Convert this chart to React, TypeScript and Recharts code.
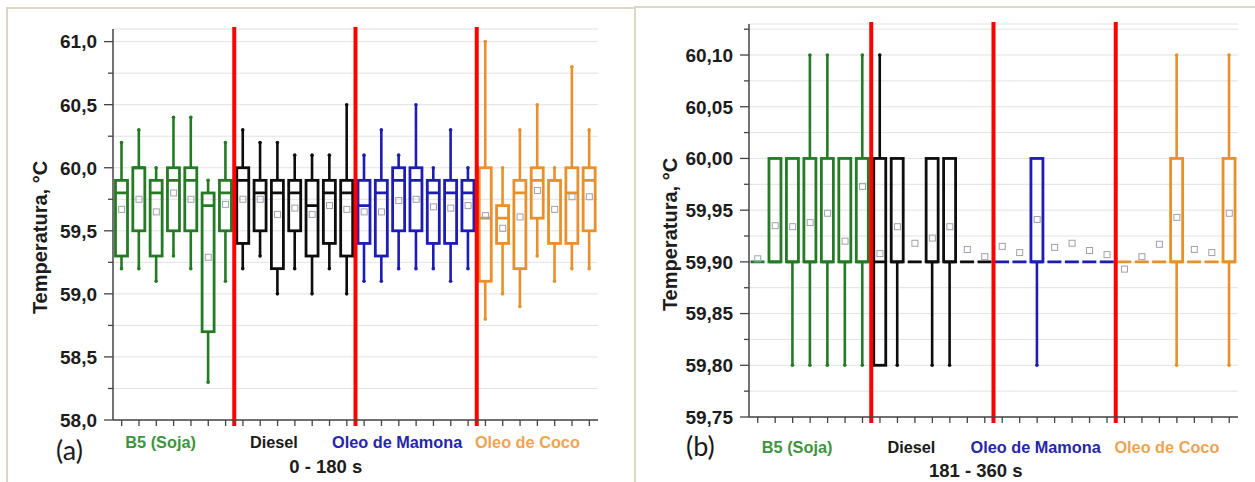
import {
  Bar,
  CartesianGrid,
  ComposedChart,
  Line,
  ReferenceArea,
  ReferenceLine,
  XAxis,
  YAxis,
} from 'recharts'

// 7 runs per fuel, 4 fuels
const categories = [
  'S1', 'S2', 'S3', 'S4', 'S5', 'S6', 'S7',
  'D1', 'D2', 'D3', 'D4', 'D5', 'D6', 'D7',
  'M1', 'M2', 'M3', 'M4', 'M5', 'M6', 'M7',
  'C1', 'C2', 'C3', 'C4', 'C5', 'C6', 'C7',
]
const groups = ['B5 (Soja)', 'Diesel', 'Oleo de Mamona', 'Oleo de Coco']

// (a) 0 - 180 s
const minA = [
  59.2, 59.2, 59.1, 59.3, 59.2, 58.3, 59.1,
  59.2, 59.3, 59.0, 59.2, 59.0, 59.2, 59.0,
  59.1, 59.1, 59.2, 59.2, 59.2, 59.1, 59.2,
  58.8, 59.0, 58.9, 59.3, 59.1, 59.2, 59.2,
]
const q1A = [
  59.3, 59.5, 59.3, 59.5, 59.5, 58.7, 59.5,
  59.4, 59.5, 59.2, 59.5, 59.3, 59.4, 59.3,
  59.4, 59.3, 59.5, 59.5, 59.4, 59.4, 59.5,
  59.1, 59.4, 59.2, 59.6, 59.4, 59.4, 59.5,
]
const medA = [
  59.8, 60.0, 59.8, 59.9, 59.9, 59.7, 59.8,
  59.9, 59.8, 59.8, 59.8, 59.7, 59.8, 59.8,
  59.7, 59.8, 59.9, 59.9, 59.8, 59.8, 59.8,
  59.6, 59.6, 59.8, 59.9, 59.9, 59.8, 59.9,
]
const q3A = [
  59.9, 60.0, 59.9, 60.0, 60.0, 59.8, 59.9,
  60.0, 59.9, 59.9, 59.9, 59.9, 59.9, 59.9,
  59.9, 59.9, 60.0, 60.0, 59.9, 59.9, 59.9,
  60.0, 59.7, 59.9, 60.0, 59.9, 60.0, 60.0,
]
const maxA = [
  60.2, 60.3, 60.0, 60.4, 60.4, 59.9, 60.2,
  60.3, 60.2, 60.2, 60.1, 60.1, 60.1, 60.5,
  60.1, 60.3, 60.1, 60.5, 60.0, 60.3, 60.0,
  61.0, 60.0, 60.3, 60.5, 60.0, 60.8, 60.3,
]
const meanA = [
  59.67, 59.75, 59.65, 59.8, 59.75, 59.29, 59.71,
  59.75, 59.75, 59.63, 59.68, 59.63, 59.7, 59.67,
  59.65, 59.65, 59.74, 59.75, 59.69, 59.68, 59.7,
  59.62, 59.52, 59.61, 59.82, 59.67, 59.77, 59.77,
]

// (b) 181 - 360 s
const minB = [
  59.9, 59.9, 59.8, 59.8, 59.8, 59.8, 59.8,
  59.8, 59.8, 59.9, 59.8, 59.8, 59.9, 59.9,
  59.9, 59.9, 59.8, 59.9, 59.9, 59.9, 59.9,
  59.9, 59.9, 59.9, 59.8, 59.9, 59.9, 59.8,
]
const q1B = [
  59.9, 59.9, 59.9, 59.9, 59.9, 59.9, 59.9,
  59.8, 59.9, 59.9, 59.9, 59.9, 59.9, 59.9,
  59.9, 59.9, 59.9, 59.9, 59.9, 59.9, 59.9,
  59.9, 59.9, 59.9, 59.9, 59.9, 59.9, 59.9,
]
const medB = [
  59.9, 59.9, 59.9, 59.9, 59.9, 59.9, 59.9,
  59.9, 59.9, 59.9, 59.9, 59.9, 59.9, 59.9,
  59.9, 59.9, 59.9, 59.9, 59.9, 59.9, 59.9,
  59.9, 59.9, 59.9, 59.9, 59.9, 59.9, 59.9,
]
const q3B = [
  59.9, 60.0, 60.0, 60.0, 60.0, 60.0, 60.0,
  60.0, 60.0, 59.9, 60.0, 60.0, 59.9, 59.9,
  59.9, 59.9, 60.0, 59.9, 59.9, 59.9, 59.9,
  59.9, 59.9, 59.9, 60.0, 59.9, 59.9, 60.0,
]
const maxB = [
  59.9, 60.0, 60.0, 60.1, 60.1, 60.0, 60.1,
  60.1, 60.0, 59.9, 60.0, 60.0, 59.9, 59.9,
  59.9, 59.9, 60.0, 59.9, 59.9, 59.9, 59.9,
  59.9, 59.9, 59.9, 60.1, 59.9, 59.9, 60.1,
]
const meanB = [
  59.903, 59.935, 59.934, 59.938, 59.947, 59.92, 59.973,
  59.908, 59.934, 59.918, 59.923, 59.934, 59.912, 59.905,
  59.915, 59.909, 59.941, 59.914, 59.918, 59.911, 59.907,
  59.893, 59.905, 59.917, 59.943, 59.912, 59.909, 59.947,
]

const ticksA = [58, 58.25, 58.5, 58.75, 59, 59.25, 59.5, 59.75, 60, 60.25, 60.5, 60.75, 61]
const ticksB = [
  59.75, 59.775, 59.8, 59.825, 59.85, 59.875, 59.9, 59.925, 59.95, 59.975,
  60, 60.025, 60.05, 60.075, 60.1, 60.125,
]

const boxColors = ['#257a25', '#0d0d0d', '#1d1db2', '#e8912c']
const labelColors = ['#3c953c', '#1a1a1a', '#2626a6', '#eea452']
const labelShift = [-13, -21, -19, -10]
const FONT = '"Liberation Sans", Arial, sans-serif'

const buildRows = (
  mins: number[],
  q1s: number[],
  meds: number[],
  q3s: number[],
  maxs: number[],
  means: number[],
) =>
  categories.map((cat, i) => ({
    cat,
    group: Math.floor(i / 7),
    min: mins[i],
    q1: q1s[i],
    med: meds[i],
    q3: q3s[i],
    max: maxs[i],
    mean: means[i],
  }))

const rowsA = buildRows(minA, q1A, medA, q3A, maxA, meanA)
const rowsB = buildRows(minB, q1B, medB, q3B, maxB, meanB)

function BoxShape(props: any) {
  const { x, y, width, height, payload } = props
  const { min, q1, med, q3, max, group } = payload
  const color = boxColors[group]
  const span = max - min
  const py = (v: number) => (span > 0 ? y + ((max - v) / span) * height : y)
  const cx = x + width / 2
  const left = x + 1.5
  const w = width - 3
  return (
    <g>
      {max > q3 && (
        <>
          <line x1={cx} x2={cx} y1={py(max)} y2={py(q3)} stroke={color} strokeWidth={2.6} />
          <circle cx={cx} cy={py(max)} r={1.8} fill={color} />
        </>
      )}
      {min < q1 && (
        <>
          <line x1={cx} x2={cx} y1={py(q1)} y2={py(min)} stroke={color} strokeWidth={2.6} />
          <circle cx={cx} cy={py(min)} r={1.8} fill={color} />
        </>
      )}
      {q3 > q1 ? (
        <>
          <rect x={left} y={py(q3)} width={w} height={py(q1) - py(q3)} fill="none" stroke={color} strokeWidth={2.8} />
          <line x1={left} x2={left + w} y1={py(med)} y2={py(med)} stroke={color} strokeWidth={2.8} />
        </>
      ) : (
        <line x1={left - 1} x2={left + w + 1} y1={py(q1)} y2={py(q1)} stroke={color} strokeWidth={2.8} />
      )}
    </g>
  )
}

const renderMean = (p: any) => (
  <rect
    key={`m-${p.index}`}
    x={p.cx - 3}
    y={p.cy - 3}
    width={6}
    height={6}
    fill="none"
    stroke="#a0a0ac"
    strokeWidth={1}
  />
)

const redLine = (p: any) => (
  <line x1={p.x1} x2={p.x2} y1={Math.min(p.y1, p.y2) - 2} y2={Math.max(p.y1, p.y2) + 6} stroke="#ff0000" strokeWidth={4} />
)

interface PanelProps {
  rows: ReturnType<typeof buildRows>
  domain: [number, number]
  ticks: number[]
  decimals: number
  majorStep: number
  left: number
  width: number
  margin: { top: number; right: number; bottom: number; left: number }
  xAxisHeight: number
  title: string
  titleShift: number
  titleDy: number
  groupDy: number
  yLabelDx: number
  yLabelDy: number
}

function Panel(p: PanelProps) {
  const YTick = (t: any) => {
    const v = t.payload.value as number
    const axisX = t.x + 16
    const major = Math.abs(v / p.majorStep - Math.round(v / p.majorStep)) < 1e-6
    return (
      <g>
        <line x1={axisX - (major ? 9 : 5)} x2={axisX} y1={t.y} y2={t.y} stroke="#444" strokeWidth={1.3} />
        {major && (
          <text x={t.x} y={t.y} dy="0.36em" textAnchor="end" fontFamily={FONT} fontWeight="bold" fontSize={19} fill="#1c1c1c">
            {v.toFixed(p.decimals).replace('.', ',')}
          </text>
        )}
      </g>
    )
  }

  const XTick = (t: any) => {
    const i = t.payload.index ?? t.index
    const g = Math.floor(i / 7)
    return (
      <g>
        {i % 7 === 3 && (
          <text x={t.x + labelShift[g]} y={t.y + p.groupDy} textAnchor="middle" fontFamily={FONT} fontWeight="bold" fontSize={16.3} fill={labelColors[g]}>
            {groups[g]}
          </text>
        )}
        {i === 13 && (
          <text x={t.x + p.titleShift} y={t.y + p.titleDy} textAnchor="middle" fontFamily={FONT} fontWeight="bold" fontSize={18.5} fill="#1c1c1c">
            {p.title}
          </text>
        )}
      </g>
    )
  }

  const yLabel = (l: any) => {
    const vb = l.viewBox
    const cx = vb.x + p.yLabelDx
    const cy = vb.y + vb.height / 2 + p.yLabelDy
    return (
      <text x={cx} y={cy} transform={`rotate(-90 ${cx} ${cy})`} textAnchor="middle" dy="0.36em" fontFamily={FONT} fontWeight="bold" fontSize={20} fill="#1c1c1c">
        Temperatura, °C
      </text>
    )
  }

  return (
    <div style={{ position: 'absolute', left: p.left, top: 0 }}>
      <ComposedChart width={p.width} height={482} data={p.rows} margin={p.margin}>
        <CartesianGrid vertical={false} stroke="#e2e2e2" strokeWidth={1} />
        <XAxis
          dataKey="cat"
          interval={0}
          height={p.xAxisHeight}
          tickSize={6}
          tickMargin={2}
          tick={XTick}
          tickLine={{ stroke: '#444', strokeWidth: 1.3 }}
          axisLine={{ stroke: '#444', strokeWidth: 1.5 }}
        />
        <YAxis
          type="number"
          domain={p.domain}
          ticks={p.ticks}
          interval={0}
          allowDataOverflow
          width={100}
          tickSize={9}
          tickMargin={7}
          tickLine={false}
          tick={YTick}
          axisLine={{ stroke: '#444', strokeWidth: 1.5 }}
          label={yLabel}
        />
        <ReferenceArea fill="none" stroke="#444" strokeWidth={1.5} ifOverflow="visible" />
        <Bar dataKey={(d: any) => [d.min, d.max]} barSize={15} shape={(s: any) => <BoxShape {...s} />} isAnimationActive={false} />
        <Line dataKey="mean" stroke="none" dot={renderMean} activeDot={false} isAnimationActive={false} />
        {[6, 13, 20].map((i) => (
          <ReferenceLine key={i} x={categories[i]} position="end" ifOverflow="visible" shape={redLine} />
        ))}
      </ComposedChart>
    </div>
  )
}

export default function App() {
  return (
    <div style={{ position: 'absolute', left: 0, top: 0, width: 1255, height: 482, background: '#fff', overflow: 'hidden' }}>
      <div style={{ position: 'absolute', left: 6, top: 7, width: 626, height: 480, borderTop: '2px solid #dcd8c4', borderLeft: '2px solid #dcd8c4', borderRight: '2px solid #dcd8c4' }} />
      <div style={{ position: 'absolute', left: 634, top: 6, width: 621, borderTop: '2px solid #dcd8c4' }} />
      <Panel
        rows={rowsA}
        domain={[58, 61.1]}
        ticks={ticksA}
        decimals={1}
        majorStep={0.5}
        left={0}
        width={634}
        margin={{ top: 29, right: 36, bottom: 0, left: 13 }}
        xAxisHeight={62}
        title="0 - 180 s"
        titleShift={-21}
        titleDy={45}
        groupDy={20}
        yLabelDx={27}
        yLabelDy={13}
      />
      <Panel
        rows={rowsB}
        domain={[59.75, 60.13]}
        ticks={ticksB}
        decimals={2}
        majorStep={0.05}
        left={634}
        width={621}
        margin={{ top: 24, right: 17, bottom: 0, left: 15 }}
        xAxisHeight={65}
        title="181 - 360 s"
        titleShift={-9}
        titleDy={52}
        groupDy={28}
        yLabelDx={21}
        yLabelDy={14}
      />
      <div style={{ position: 'absolute', left: 56, top: 433, fontFamily: 'Lato, sans-serif', fontSize: 27, color: '#1a1a1a' }}>(a)</div>
      <div style={{ position: 'absolute', left: 686, top: 429, fontFamily: 'Lato, sans-serif', fontSize: 27, color: '#1a1a1a' }}>(b)</div>
    </div>
  )
}
